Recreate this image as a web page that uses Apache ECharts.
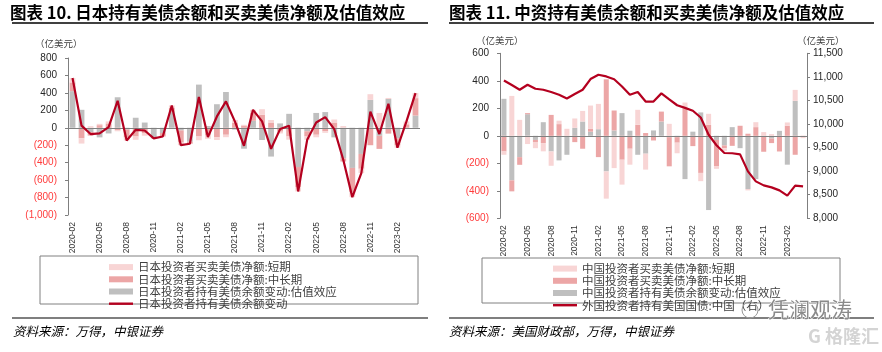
<!DOCTYPE html>
<html><head><meta charset="utf-8">
<script src="https://cdn.jsdelivr.net/npm/echarts@6/dist/echarts.min.js"></script>
<style>html,body{margin:0;padding:0;background:#fff}#c{width:882px;height:352px}</style>
</head><body><div id="c"></div>
<script>
const categories = ['2020-02','2020-03','2020-04','2020-05','2020-06','2020-07','2020-08','2020-09','2020-10','2020-11','2020-12','2021-01','2021-02','2021-03','2021-04','2021-05','2021-06','2021-07','2021-08','2021-09','2021-10','2021-11','2021-12','2022-01','2022-02','2022-03','2022-04','2022-05','2022-06','2022-07','2022-08','2022-09','2022-10','2022-11','2022-12','2023-01','2023-02','2023-03','2023-04'];

// Japan (left chart), 亿美元
const jpShort = [50,-61,18,15,23,-10,-35,-38,-31,0,0,26,-29,0,-43,-37,-30,-28,30,14,36,63,29,-20,-37,-50,-38,-29,-18,35,20,-55,-50,65,170,12,-28,33,58];
const jpLong  = [100,-120,-40,30,50,-30,-90,-100,-60,-12,-40,50,-140,-23,-100,-90,-110,-80,60,20,90,150,60,-45,-100,-230,-60,-80,-40,60,-37,-280,-170,-200,-150,-67,-80,40,200];
const jpVal   = [420,206,-50,-110,-65,350,-20,115,60,-110,-60,180,-30,-160,495,20,270,410,-20,-240,80,-140,-330,50,160,-450,-40,170,180,-110,-350,-460,-300,320,-92,330,-120,0,140];
const jpTotal = [570,25,-72,-65,8,310,-145,-23,-31,-122,-100,256,-199,-183,352,-107,130,302,70,-206,206,73,-241,-15,23,-730,-138,61,122,-15,-367,-795,-520,185,-72,275,-228,73,398];

// China (right chart)
const cnShort = [-24,290,116,-60,-45,-60,-104,25,51,68,77,170,184,-198,-235,-181,-116,109,-116,0,0,87,-77,42,0,-60,80,-20,-20,0,0,-10,36,27,12,0,24,80,-12];
const cnLong  = [-114,-80,-56,8,-15,-53,152,85,0,-46,-94,20,-155,411,145,-174,-94,80,20,-34,72,-212,-40,200,-75,-270,80,-190,-20,-73,73,15,63,-116,-33,-114,73,-138,-5];
const cnVal   = [269,-324,-155,157,-30,99,-114,-179,-138,58,104,30,48,-259,39,165,37,-138,-130,39,104,-10,-10,-315,30,170,-540,-30,-70,63,-90,-387,-315,0,-20,36,-210,254,0];
const cnHold  = [10924,10827,10727,10833,10748,10727,10678,10621,10543,10636,10727,10954,11045,11009,10950,10797,10621,10678,10476,10476,10650,10522,10398,10342,10282,10138,9773,9550,9385,9380,9356,8995,8783,8698,8656,8592,8480,8692,8677];

const jpNames = ['日本投资者买卖美债净额:短期','日本投资者买卖美债净额:中长期','日本投资者持有美债余额变动:估值效应','日本投资者持有美债余额变动'];
const cnNames = ['中国投资者买卖美债净额:短期','中国投资者买卖美债净额:中长期','中国投资者持有美债余额变动:估值效应','外国投资者持有美国国债:中国（右）'];

const C_SHORT = '#f8d5d5', C_LONG = '#eca6a6', C_VAL = '#bfbfbf', C_LINE = '#b4001f';
const NUMF = '"Liberation Sans", Arial, sans-serif';
const CJK = '"Noto Sans CJK SC", sans-serif';
const LINE_ICON = 'path://M0,0 L24,0 L24,2.4 L0,2.4 Z';

function comma(n){ return String(n).replace(/\B(?=(\d{3})+(?!\d))/g, ','); }
function fmtLeft(v){ const s = comma(Math.abs(v)); return v < 0 ? '{neg|(' + s + ')}' : '{pos|' + s + '}'; }
const richLbl = { neg:{color:'#ff3b3b', fontSize:10, fontFamily:NUMF}, pos:{color:'#262626', fontSize:10, fontFamily:NUMF} };

function xAx(g){
  return {gridIndex:g, type:'category', data:categories, axisLine:{show:false}, axisTick:{show:false},
    axisLabel:{interval:2, rotate:90, fontSize:8.5, color:'#333', margin:7, fontFamily:NUMF}};
}
function yAx(g, min, max, itv, pos, fmt){
  return {gridIndex:g, type:'value', min:min, max:max, interval:itv, position:pos,
    axisLine:{show:true, lineStyle:{color:'#7f7f7f', width:1}},
    axisTick:{show:true, length:3, lineStyle:{color:'#7f7f7f'}},
    splitLine:{show:false},
    axisLabel:{formatter:fmt, rich:richLbl, color:'#262626', fontSize:10, fontFamily:NUMF, margin: pos==='right' ? 6 : 11}};
}
const zeroLine = {silent:true, symbol:'none', label:{show:false}, lineStyle:{color:'#808080', type:'solid', width:1}, data:[{yAxis:0}], z:3};

function barS(name, data, color, xi, yi, stack, mark){
  const s = {name:name, type:'bar', xAxisIndex:xi, yAxisIndex:yi, stack:stack, data:data, barWidth:'64%',
    itemStyle:{color:color}, emphasis:{disabled:true}};
  if (mark) s.markLine = zeroLine;
  return s;
}

const chart = echarts.init(document.getElementById('c'), null, {renderer:'canvas'});
const legendBase = {orient:'vertical', itemWidth:24, itemHeight:6, itemGap:0, selectedMode:false,
  textStyle:{fontSize:11.5, lineHeight:12.2, color:'#404040', fontFamily:CJK}};

chart.setOption({
  animation:false,
  backgroundColor:'#fff',
  grid:[
    {left:68, top:58, width:352, height:157},
    {left:500, top:53.3, width:307, height:165}
  ],
  xAxis:[xAx(0), xAx(1)],
  yAxis:[
    yAx(0,-1000,800,200,'left',fmtLeft),
    yAx(1,-600,600,200,'left',fmtLeft),
    yAx(1,8000,11500,500,'right',function(v){return comma(v);})
  ],
  legend:[
    Object.assign({}, legendBase, {left:104, top:256, data:[
      {name:jpNames[0], icon:'rect'},{name:jpNames[1], icon:'rect'},{name:jpNames[2], icon:'rect'},{name:jpNames[3], icon:LINE_ICON}]}),
    Object.assign({}, legendBase, {left:548, top:257.5, data:[
      {name:cnNames[0], icon:'rect'},{name:cnNames[1], icon:'rect'},{name:cnNames[2], icon:'rect'},{name:cnNames[3], icon:LINE_ICON}]})
  ],
  series:[
    barS(jpNames[2], jpVal, C_VAL, 0, 0, 'jp'),
    barS(jpNames[1], jpLong, C_LONG, 0, 0, 'jp'),
    barS(jpNames[0], jpShort, C_SHORT, 0, 0, 'jp', true),
    {name:jpNames[3], type:'line', xAxisIndex:0, yAxisIndex:0, data:jpTotal, symbol:'none', z:5,
      lineStyle:{color:C_LINE, width:2.2}, itemStyle:{color:C_LINE}},
    barS(cnNames[2], cnVal, C_VAL, 1, 1, 'cn'),
    barS(cnNames[1], cnLong, C_LONG, 1, 1, 'cn'),
    barS(cnNames[0], cnShort, C_SHORT, 1, 1, 'cn', true),
    {name:cnNames[3], type:'line', xAxisIndex:1, yAxisIndex:2, data:cnHold, symbol:'none', z:5,
      lineStyle:{color:C_LINE, width:2.2}, itemStyle:{color:C_LINE}}
  ],
  graphic:[
    {type:'text', x:10, y:13, style:{text:'图表 10. 日本持有美债余额和买卖美债净额及估值效应', fontSize:16.5, fontWeight:'bold', fontFamily:CJK, fill:'#000', verticalAlign:'middle'}},
    {type:'text', x:449, y:13, style:{text:'图表 11. 中资持有美债余额和买卖美债净额及估值效应', fontSize:16.5, fontWeight:'bold', fontFamily:CJK, fill:'#000', verticalAlign:'middle'}},
    {type:'line', shape:{x1:12, y1:23, x2:428, y2:23}, style:{stroke:'#000', lineWidth:1.5}},
    {type:'line', shape:{x1:449, y1:23, x2:874, y2:23}, style:{stroke:'#000', lineWidth:1.5}},
    {type:'text', x:35, y:43, style:{text:'（亿美元）', fontSize:9.5, fontFamily:CJK, fill:'#404040', verticalAlign:'middle'}},
    {type:'text', x:476, y:40, style:{text:'（亿美元）', fontSize:9.5, fontFamily:CJK, fill:'#404040', verticalAlign:'middle'}},
    {type:'text', x:797, y:40, style:{text:'（亿美元）', fontSize:9.5, fontFamily:CJK, fill:'#404040', verticalAlign:'middle'}},
    {type:'rect', shape:{x:40, y:256, width:378, height:48}, style:{fill:'none', stroke:'#808080', lineWidth:1}},
    {type:'rect', shape:{x:482, y:258, width:358, height:45}, style:{fill:'none', stroke:'#808080', lineWidth:1}},
    {type:'line', shape:{x1:12, y1:318, x2:428, y2:318}, style:{stroke:'#000', lineWidth:1.2}},
    {type:'line', shape:{x1:449, y1:318, x2:874, y2:318}, style:{stroke:'#000', lineWidth:1.2}},
    {type:'text', x:13, y:331, style:{text:'资料来源：万得，中银证券', fontSize:12.5, fontStyle:'italic', fontFamily:CJK, fill:'#000', verticalAlign:'middle'}},
    {type:'text', x:449, y:331, style:{text:'资料来源：美国财政部，万得，中银证券', fontSize:12.5, fontStyle:'italic', fontFamily:CJK, fill:'#000', verticalAlign:'middle'}},
    {type:'circle', shape:{cx:750, cy:310, r:8}, style:{fill:'none', stroke:'#9a9a9a', lineWidth:1}, z:10},
    {type:'text', x:768, y:309, style:{text:'凭澜观涛', fontSize:21, fontFamily:CJK, fill:'#8a8a8a', stroke:'#fff', lineWidth:1, verticalAlign:'middle'}, z:10},
    {type:'text', x:808, y:336, style:{text:'G 格隆汇', fontSize:18, fontWeight:'bold', fontFamily:CJK, fill:'#d4d4d4', verticalAlign:'middle'}, z:10}
  ]
});
</script></body></html>
